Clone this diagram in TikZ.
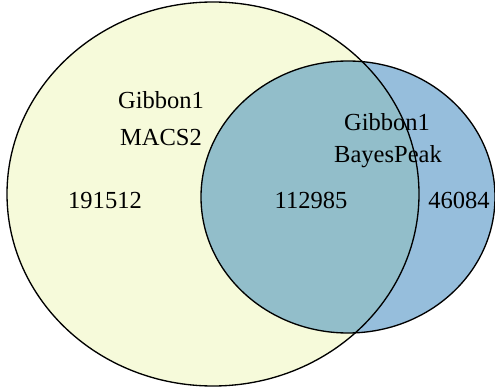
\documentclass[tikz,border=0pt]{standalone}
\usepackage{fontspec}
\setmainfont{Liberation Serif}
\usepackage{tikz}
\usetikzlibrary{positioning}
\definecolor{macsyellow}{RGB}{246,250,218}
\definecolor{bayesblue}{RGB}{150,190,220}
\definecolor{bothblue}{RGB}{146,190,202}

\begin{document}
\begin{tikzpicture}[x = 0.75pt, y = -0.75pt, font = \fontsize{18.4}{22}\selectfont]
\useasboundingbox (0,0) rectangle (495,388);
\fill[macsyellow] (213,194) ellipse (206 and 192); %macs2
\fill[bayesblue] (348,197) ellipse (147 and 136); %bayespeak
\begin{scope}
\clip (213,194) ellipse (206 and 192);
\fill[bothblue] (348,197) ellipse (147 and 136); %both
\end{scope}
\draw[line width = 1pt] (213,194) ellipse (206 and 192);
\draw[line width = 1pt] (348,197) ellipse (147 and 136);
\node (macsname) at (161,100) {Gibbon1};
\node (macstool) at (161,137) {MACS2};
\node (bayesname) at (387,122) {Gibbon1};
\node (bayestool) at (388,157) {BayesPeak};
\node (macsonly) at (105,200) {191512};
\node (shared) at (311,200) {112985};
\node (bayesonly) at (459,200) {46084};
\end{tikzpicture}
\end{document}
